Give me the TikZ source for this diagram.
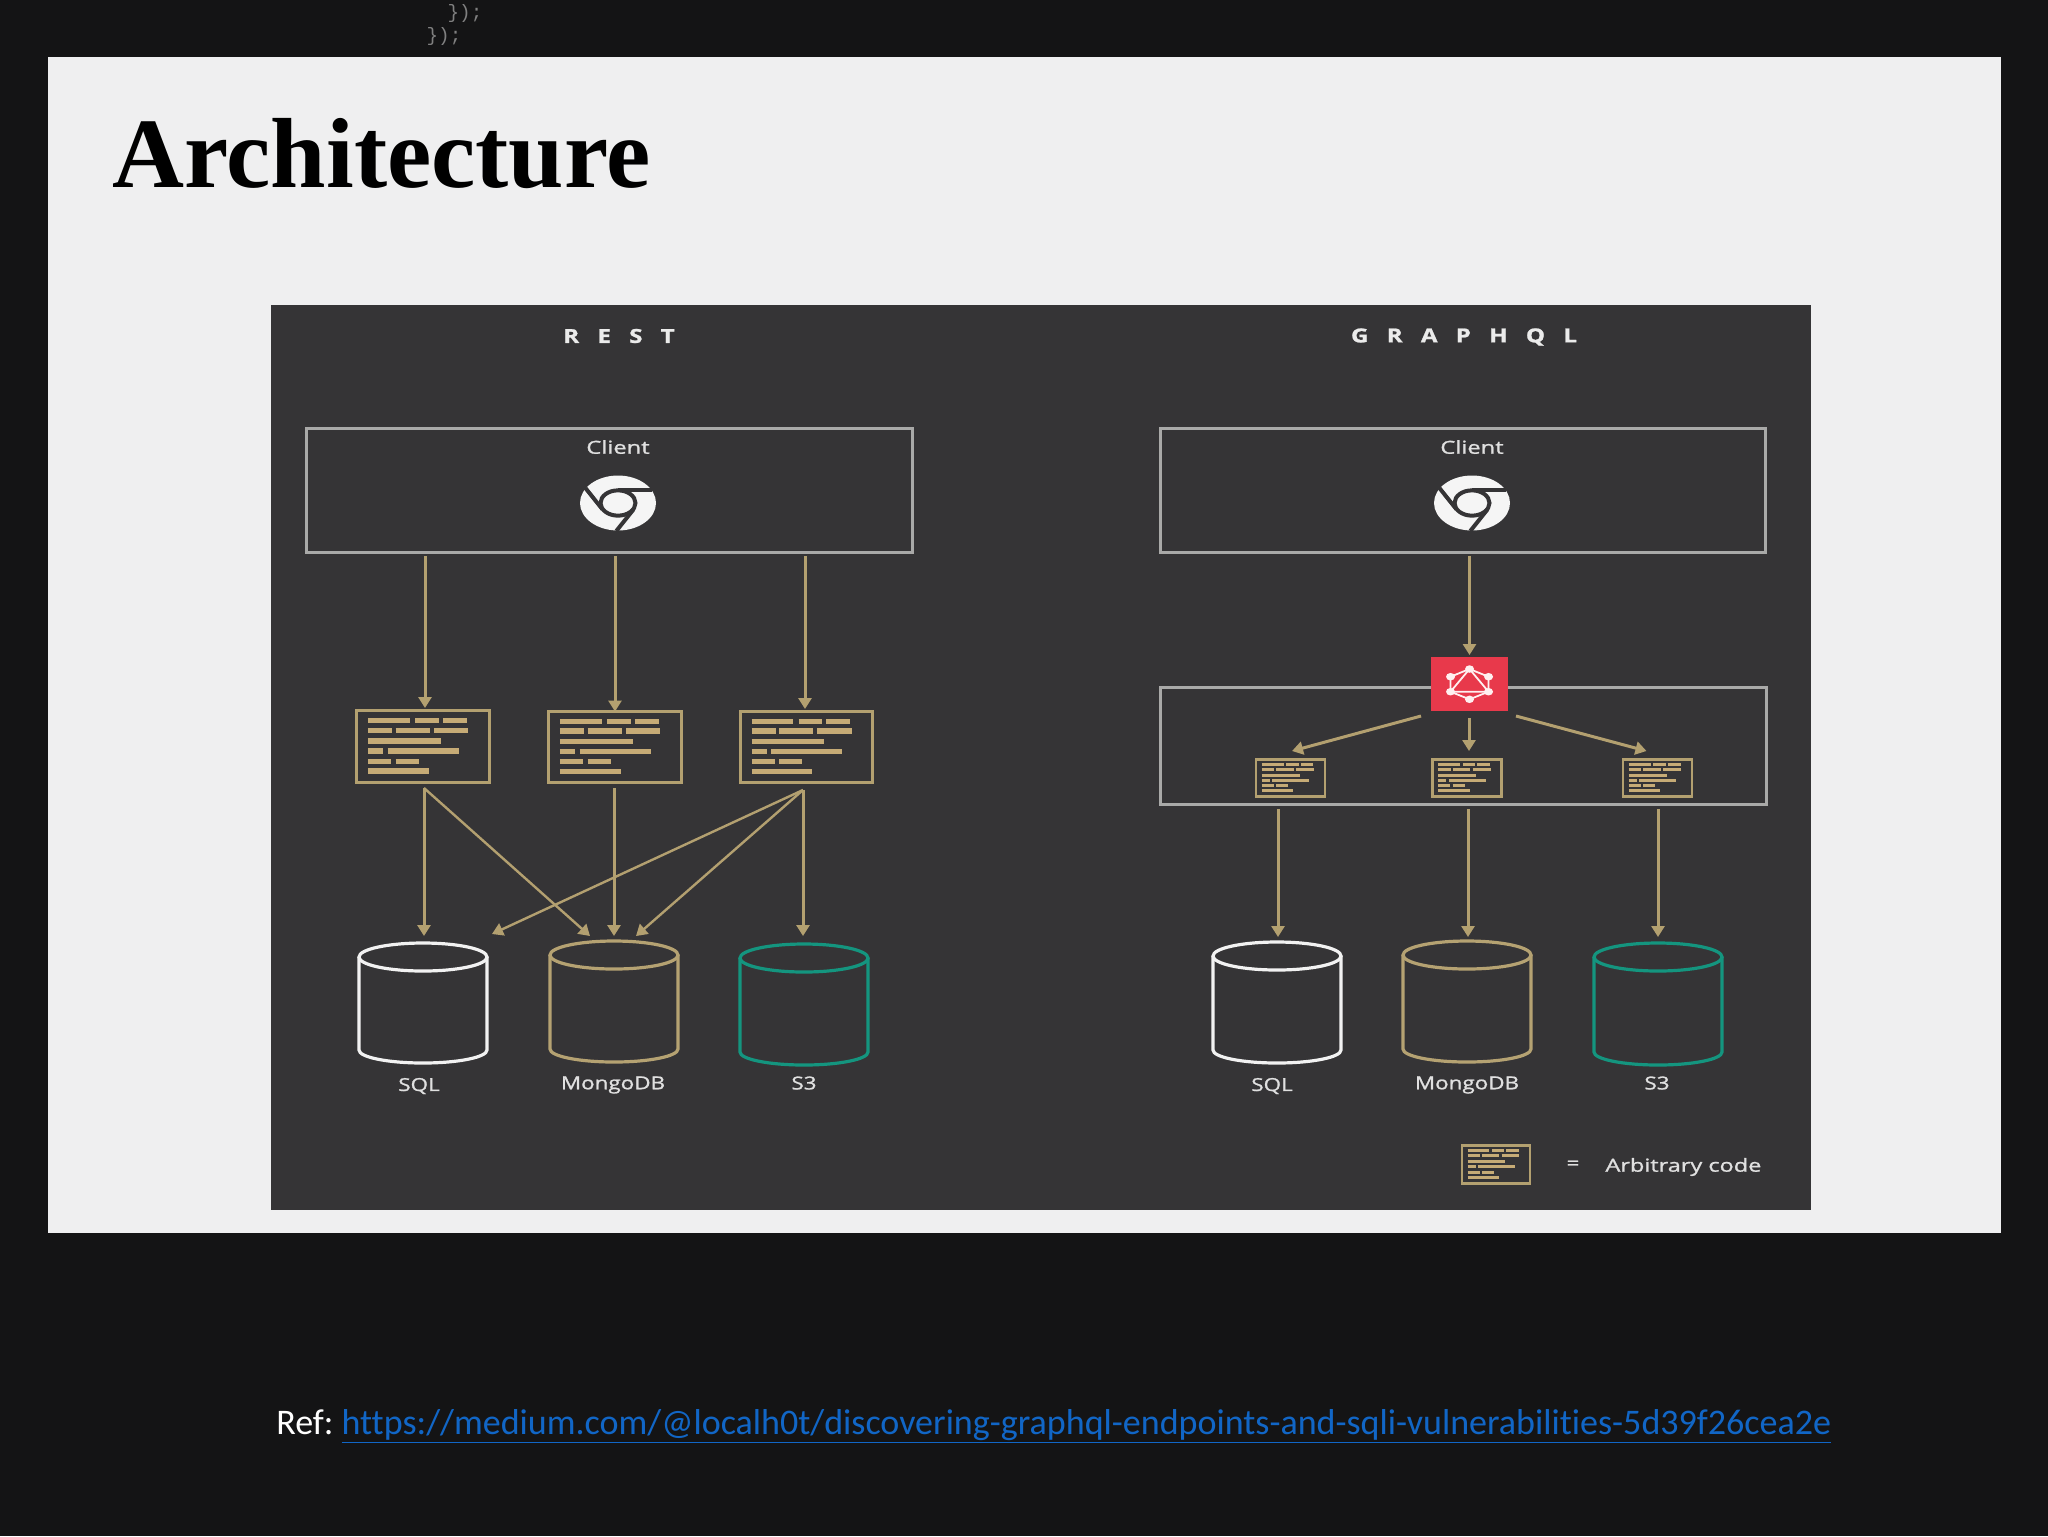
\documentclass[tikz,border=0pt]{standalone}
\usepackage{fontspec}
\usepackage{xcolor}
\usepackage{tikz}
\usetikzlibrary{calc,arrows.meta,shapes.geometric}
\setmainfont{Liberation Serif}
\newfontfamily\labelfont[FakeBold=1.1]{Open Sans}
\newfontfamily\slidefont[Ligatures=NoCommon]{Carlito}
\newfontfamily\ghostfont{Liberation Mono}
\newcommand{\headfont}{\labelfont\bfseries\fontsize{11}{12}\selectfont\spaceskip 8.3pt\relax}
\definecolor{slidebg}{HTML}{141415}
\definecolor{panel}{HTML}{EFEFF0}
\definecolor{figbg}{HTML}{353436}
\definecolor{greybox}{HTML}{A9A9A8}
\definecolor{tanline}{HTML}{B3A070}
\definecolor{tanbar}{HTML}{C6AB76}
\definecolor{mongotan}{HTML}{B5A272}
\definecolor{teal}{HTML}{14957F}
\definecolor{gqlred}{HTML}{E8394B}
\definecolor{linkblue}{HTML}{1166C6}
\def\px{0.02cm}
\tikzset{
  clientbox/.style={draw=greybox, line width=3.4*\px, inner sep=0pt, outer sep=0pt},
  codeframe/.style={draw=tanline, line width=2.8*\px, inner sep=0pt, outer sep=0pt},
  codebar/.style={draw=tanbar},
  flow/.style={draw=tanline, line width=3*\px, -{Triangle[length=0.22cm,width=0.26cm]}, fill=tanline},
  thinflow/.style={flow, line width=2.4*\px},
  lab/.style={font=\labelfont\fontsize{10.2}{12}\selectfont, text=white!88!black, xscale=1.25, inner sep=0pt},
  headlab/.style={font=\headfont, text=white!92!black, xscale=1.25, inner sep=0pt},
  dbnode/.style={inner sep=0pt, outer sep=0pt},
  chromedisc/.style={ellipse, fill=white!96!black, inner sep=0pt, outer sep=0pt},
  chromecut/.style={draw=figbg, line width=4*\px},
  gqldot/.style={ellipse, fill=white!94!red, inner sep=0pt, minimum width=9*\px, minimum height=7.5*\px}
}
% name, x, y, width, height
\newcommand{\codebox}[5]{%
  \node[codeframe, minimum width=#4*\px, minimum height=#5*\px] (#1) at (#2,#3) {};
  \foreach \xa/\xb/\ry in {.083/.40/.138,.44/.617/.138,.65/.833/.138,
      .083/.267/.275,.293/.55/.275,.583/.843/.275,
      .083/.633/.422,
      .083/.2/.564,.233/.773/.564,
      .083/.26/.706,.293/.467/.706,
      .083/.543/.844}
    \draw[codebar, line width=#5*0.078*\px] ({#2+(\xa-0.5)*#4},{#3+(\ry-0.5)*#5}) -- ({#2+(\xb-0.5)*#4},{#3+(\ry-0.5)*#5});
}
% name, x, y
\newcommand{\chromeicon}[3]{%
  \node[chromedisc, minimum width=76*\px, minimum height=55*\px] (#1) at (#2,#3) {};
  \begin{scope}[shift={(#2,#3)}, x=1cm, y=1cm, xscale=0.76, yscale=0.55]
    \foreach \ang in {0,120,240}
      \draw[chromecut, rotate=\ang] (0,0.47) -- (0.9,0.47);
    \draw[chromecut] (0,0) circle (0.46);
  \end{scope}
}
% name, x, top, bottom, half width, colour
\newcommand{\dbcyl}[6]{%
  \node[dbnode, minimum width=2*#5*\px, minimum height=(#4-#3)*\px] (#1) at (#2,{(#3+#4)/2}) {};
  \draw[#6, line width=3.2*\px] (#2,{#3+14}) ellipse [x radius=#5, y radius=14];
  \draw[#6, line width=3.2*\px] ({#2-#5},{#3+14}) -- ({#2-#5},{#4-13})
    arc [start angle=180, end angle=0, x radius=#5, y radius=13] -- ({#2+#5},{#3+14});
}

\begin{document}
\begin{tikzpicture}[x=0.02cm, y=-0.02cm]
  \useasboundingbox (0,0) rectangle (2048,1536);
  \fill[slidebg] (0,0) rectangle (2048,1536);
  \node[font=\ghostfont\fontsize{11}{12}\selectfont, text=gray, inner sep=0pt] (ghostA) at (465,13) {\});};
  \node[font=\ghostfont\fontsize{11}{12}\selectfont, text=gray, inner sep=0pt] (ghostB) at (444,36) {\});};
  \fill[panel] (48,57) rectangle (2001,1233);
  \fill[figbg] (271,305) rectangle (1811,1210);

  \node[anchor=base west, inner sep=0pt, font=\bfseries\fontsize{56.7}{60}\selectfont, text=black] (title) at (112,187) {Architecture};

  % left side
  \node[headlab] (restHead) at (619,336) {R E S T};
  \node[clientbox, minimum width=606*\px, minimum height=124*\px] (clientL) at (609.5,490.5) {};
  \node[lab, xscale=1.06] (clientLabL) at (618,447) {Client};
  \chromeicon{chromeL}{618}{503}

  \codebox{codeA}{423}{746.5}{132.5}{72}
  \codebox{codeB}{615}{747}{132.5}{71}
  \codebox{codeC}{806.5}{747}{131.5}{71}

  \draw[flow, shorten <=3*\px] (425,553) -- (425,708);
  \draw[flow, shorten <=3*\px] (615,553) -- (codeB.north);
  \draw[flow, shorten <=3*\px] (805,553) -- (805,709);

  \dbcyl{sqlL}{423}{943}{1063}{64}{white!95!black}
  \dbcyl{mongoL}{614}{941}{1062}{64}{mongotan}
  \dbcyl{sthreeL}{804}{944}{1065}{64}{teal}

  \coordinate (fromA) at (424,788);
  \coordinate (fromC) at (803,790);
  \draw[flow] (fromA) -- (424,936);
  \draw[thinflow] (fromA) -- (590,936);
  \draw[flow] (614,788) -- (614,936);
  \draw[thinflow] (fromC) -- (492,934);
  \draw[thinflow] (fromC) -- (636,936);
  \draw[flow] (fromC) -- (803,936);

  \node[lab] (sqlLabL) at (419,1086) {SQL};
  \node[lab] (mongoLabL) at (613,1085) {MongoDB};
  \node[lab] (sthreeLabL) at (804,1083) {S3};

  % right side
  \node[headlab] (gqlHead) at (1464,337) {G R A P H Q L};
  \node[clientbox, minimum width=605*\px, minimum height=124*\px] (clientR) at (1463,490.5) {};
  \node[lab, xscale=1.06] (clientLabR) at (1472,447) {Client};
  \chromeicon{chromeR}{1472}{503}

  \node[clientbox, minimum width=606*\px, minimum height=117*\px] (serverbox) at (1463.5,746) {};
  \node[fill=gqlred, inner sep=0pt, outer sep=0pt, minimum width=77*\px, minimum height=54*\px] (gql) at (1469.5,684) {};
  \draw[white!94!red, line width=1.8*\px] (1469.5,669) -- (1488.5,676.7) -- (1488.5,691.7) -- (1469.5,699.3) -- (1450.5,691.7) -- (1450.5,676.7) -- cycle;
  \draw[white!94!red, line width=1.8*\px] (1469.5,669) -- (1488.5,691.7) -- (1450.5,691.7) -- cycle;
  \foreach \dx/\dy [count=\i] in {1469.5/669,1488.5/676.7,1488.5/691.7,1469.5/699.3,1450.5/691.7,1450.5/676.7}
    \node[gqldot] (gqlDot\i) at (\dx,\dy) {};

  \draw[flow, shorten <=3*\px, shorten >=2*\px] (gql.north |- clientR.south) -- (gql.north);

  \codebox{codeX}{1290.5}{778}{69}{37}
  \codebox{codeY}{1467}{778}{69}{37}
  \codebox{codeZ}{1657.5}{778}{69}{37}

  \draw[flow] (1421,716) -- (1292,751);
  \draw[flow] (1469,718) -- (1469,751);
  \draw[flow] (1516,716) -- (1646.5,751);

  \dbcyl{sqlR}{1277}{942}{1063}{64}{white!95!black}
  \dbcyl{mongoR}{1467}{941}{1062}{64}{mongotan}
  \dbcyl{sthreeR}{1658}{943}{1065}{64}{teal}

  \draw[flow] (1278,809) -- (1278,937);
  \draw[flow] (1468,809) -- (1468,937);
  \draw[flow] (1658,809) -- (1658,937);

  \node[lab] (sqlLabR) at (1272,1086) {SQL};
  \node[lab] (mongoLabR) at (1467,1085) {MongoDB};
  \node[lab] (sthreeLabR) at (1657,1083) {S3};

  % legend
  \codebox{codeKey}{1496}{1164.5}{68}{38}
  \node[lab] (equalsKey) at (1573,1165) {=};
  \node[lab, anchor=west, xscale=1.05] (keyLab) at (1605,1167) {Arbitrary code};

  % reference line
  \node[anchor=base west, inner sep=0pt, font=\slidefont\fontsize{20.5}{24}\selectfont, text=white] (ref) at (276,1434)
    {Ref:\hspace{4.6pt}\textcolor{linkblue}{\underline{https://medium.com/@localh0t/discovering-graphql-endpoints-and-sqli-vulnerabilities-5d39f26cea2e}}};
\end{tikzpicture}
\end{document}
